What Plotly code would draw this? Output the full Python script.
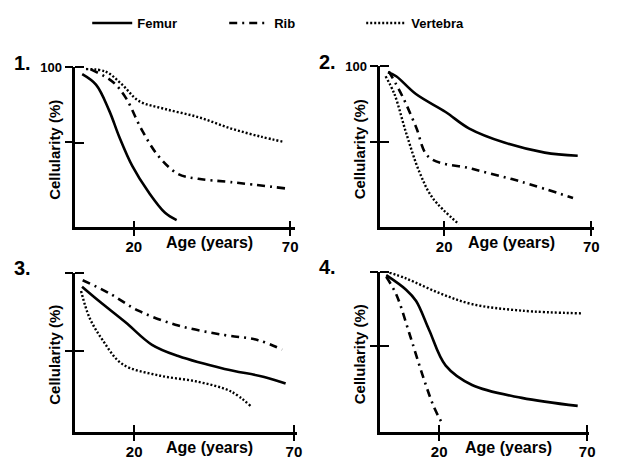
import plotly.graph_objects as go

# panel 1
femur1_age = [3.5, 7.9, 12.1, 15.3, 19.5, 24.7, 30, 33.7]
femur1_cell = [95.5, 88.5, 71.4, 54, 34.4, 17, 3.2, -1.7]
rib1_age = [6.2, 13.1, 17.4, 22.6, 27.9, 34.2, 40.6, 51, 69]
rib1_cell = [98.7, 90.7, 79.9, 58.2, 40.9, 29, 25.8, 23.6, 19.3]
vert1_age = [4.7, 11, 16.3, 21.6, 30, 40.6, 51.1, 60.6, 67.5]
vert1_cell = [98.9, 97.2, 88.5, 77.7, 72.3, 66.9, 59.3, 53.9, 50.6]

# panel 2
femur2_age = [0.9, 3.7, 10.4, 20.5, 28.4, 40.7, 54.2, 65.4]
femur2_cell = [96.2, 93.5, 81.7, 69.8, 59, 49.4, 42.9, 40.8]
rib2_age = [1.2, 6, 10.4, 14.9, 29.5, 46.4, 63.8]
rib2_cell = [96.8, 79.5, 60.1, 39.7, 32.2, 23.5, 12.8]
vert2_age = [0.1, 3.1, 7.1, 11.6, 16.1, 25]
vert2_cell = [93.5, 81.7, 55.8, 30, 12.8, -4.5]

# panel 3
femur3_age = [3.7, 9.1, 17.3, 25.6, 33.8, 48.3, 60.7, 67.4]
femur3_cell = [91.2, 81.9, 68.5, 54.1, 46.9, 38.7, 33.6, 29.4]
rib3_age = [3.9, 12.2, 21.5, 33.8, 48.3, 58.6, 66.3]
rib3_cell = [95.3, 87, 75.7, 66.4, 60.3, 57.2, 51]
vert3_age = [3.4, 6, 10.1, 16.3, 27.6, 40, 50.3, 56.5]
vert3_cell = [88.4, 71.6, 57.2, 41.8, 34.6, 30.5, 24.3, 15]

# panel 4
femur4_age = [2.1, 8.8, 12.2, 16.6, 22.2, 31.1, 47.9, 66.8]
femur4_cell = [97.8, 88, 80.4, 60.9, 36.9, 23.9, 15.2, 9.8]
rib4_age = [2.1, 5.5, 9.9, 14.4, 18.3, 21.1]
rib4_cell = [96.7, 84.8, 58.7, 30.4, 8.7, -2.2]
vert4_age = [3.2, 8.8, 20, 31.1, 47.9, 67.9]
vert4_cell = [99.5, 95.6, 85.8, 78.3, 73.9, 72.1]

bones = ["Femur", "Rib", "Vertebra"]
x_ticks = [20, 70]
y_ticks = [50, 100]
panel_labels = ["1.", "2.", "3.", "4."]

panels = [
    [(femur1_age, femur1_cell), (rib1_age, rib1_cell), (vert1_age, vert1_cell)],
    [(femur2_age, femur2_cell), (rib2_age, rib2_cell), (vert2_age, vert2_cell)],
    [(femur3_age, femur3_cell), (rib3_age, rib3_cell), (vert3_age, vert3_cell)],
    [(femur4_age, femur4_cell), (rib4_age, rib4_cell), (vert4_age, vert4_cell)],
]

# the page body has an 8px margin, so the figure is drawn a bit smaller
OFF = 8
W, H = 619 - OFF, 460 - OFF

def px(x):
    return (x - OFF) / W

def py(y):
    return 1 - (y - OFF) / H

# pixel boxes of each panel on the page (left, right, top, bottom) and axis ranges
boxes = [(76, 298, 59, 224), (384, 600, 58, 224), (76, 300, 271, 435), (384, 595, 270, 435)]
xranges = [[1.3, 71.6], [-1.7, 71], [1.6, 71], [0.1, 70.7]]
yranges = [[-6.5, 100], [-6.6, 100], [-1.4, 100], [-7.6, 100]]

styles = [
    dict(color="black", width=2.6, dash="solid"),
    dict(color="black", width=2.6, dash="8px,5px,2px,5px"),
    dict(color="black", width=2.4, dash="2px,2px"),
]

bold = dict(family="Liberation Sans, Arial, sans-serif", size=14, color="black", weight="bold")

fig = go.Figure()
for p, series in enumerate(panels):
    n = "" if p == 0 else str(p + 1)
    for b, (ages, cells) in enumerate(series):
        fig.add_trace(go.Scatter(
            x=ages, y=cells, mode="lines", name=bones[b],
            line=dict(shape="spline", smoothing=1.0, **styles[b]),
            showlegend=(p == 0), xaxis="x" + n, yaxis="y" + n,
        ))

layout = dict(
    width=W, height=H, margin=dict(l=0, r=0, t=0, b=0),
    paper_bgcolor="white", plot_bgcolor="white",
    font=bold,
    legend=dict(orientation="h", x=px(88), y=py(13), xanchor="left", yanchor="middle",
                font=dict(size=13, weight="bold"), entrywidth=82, itemwidth=40),
    annotations=[],
)

for p in range(4):
    l, r, t, b = boxes[p]
    n = "" if p == 0 else str(p + 1)
    top_label = "100" if p < 2 else ""
    layout["xaxis" + n] = dict(
        domain=[px(l), px(r)], range=xranges[p], anchor="y" + n,
        showgrid=False, zeroline=False, showline=True, linecolor="black", linewidth=2.5,
        tickmode="array", tickvals=x_ticks, ticktext=[str(v) for v in x_ticks],
        ticks="outside", ticklen=6, tickwidth=2, tickcolor="black", ticklabelstandoff=-2,
        minor=dict(ticks="inside", tickmode="array", tickvals=[v - 0.01 for v in x_ticks],
                   ticklen=7, tickwidth=2, tickcolor="black"),
        tickfont=dict(size=15, weight="bold"),
    )
    layout["yaxis" + n] = dict(
        domain=[py(b), py(t)], range=yranges[p], anchor="x" + n,
        showgrid=False, zeroline=False, showline=True, linecolor="black", linewidth=2.5,
        tickmode="array", tickvals=y_ticks, ticktext=["", top_label],
        ticks="outside", ticklen=8, tickwidth=2, tickcolor="black",
        minor=dict(ticks="inside", tickmode="array", tickvals=[v - 0.01 for v in y_ticks],
                   ticklen=9, tickwidth=2, tickcolor="black"),
        tickfont=dict(size=13, weight="bold"),
    )
    # axis titles and panel numbers
    layout["annotations"].append(dict(
        text="Age (years)", xref="paper", yref="paper", x=px((l + r) / 2 + 24), y=py(b + 16),
        xanchor="center", yanchor="middle", showarrow=False, font=dict(size=16, weight="bold")))
    layout["annotations"].append(dict(
        text="Cellularity (%)", xref="paper", yref="paper", x=px(l - 21), y=py((t + b) / 2 + 3),
        xanchor="center", yanchor="middle", textangle=-90, showarrow=False,
        font=dict(size=15, weight="bold")))
    layout["annotations"].append(dict(
        text=panel_labels[p], xref="paper", yref="paper", x=px(l - 53), y=py(t - 5),
        xanchor="center", yanchor="middle", showarrow=False, font=dict(size=20, weight="bold")))

fig.update_layout(**layout)
fig.write_html("out.html")
